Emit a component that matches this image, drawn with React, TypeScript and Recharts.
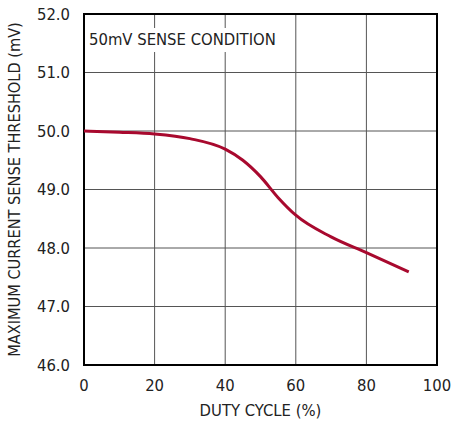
import { LineChart, Line, XAxis, YAxis, CartesianGrid, ReferenceArea } from 'recharts'

const dutyCycle = [0, 10, 20, 30, 40, 45, 50, 55, 60, 70, 80, 92]
const threshold = [50.0, 49.98, 49.95, 49.87, 49.69, 49.5, 49.22, 48.86, 48.56, 48.19, 47.92, 47.59]
const xTicks = [0, 20, 40, 60, 80, 100]
const yTicks = [46, 47, 48, 49, 50, 51, 52]

const chartData = dutyCycle.map((d, i) => ({ duty: d, mv: threshold[i] }))

const font = '"Liberation Sans Narrow", "DejaVu Sans Condensed", Arial, sans-serif'

export default function App() {
  return (
    <div style={{ position: 'absolute', left: 0, top: 0, width: 467, height: 423, background: '#fff', fontFamily: font }}>
      <LineChart width={467} height={423} data={chartData} margin={{ top: 14, right: 30, bottom: 0, left: 0 }}>
        <CartesianGrid stroke="#555" strokeWidth={1} />
        <XAxis
          dataKey="duty"
          type="number"
          domain={[0, 100]}
          ticks={xTicks}
          tickLine={false}
          axisLine={false}
          height={58}
          tickMargin={8}
          tick={{ fill: '#222', fontSize: 16.5, fontFamily: font }}
          label={{ value: 'DUTY CYCLE (%)', position: 'insideBottom', offset: 7, fill: '#222', fontSize: 16.5, fontFamily: font }}
        />
        <YAxis
          type="number"
          domain={[46, 52]}
          ticks={yTicks}
          tickFormatter={(v: number) => v.toFixed(1)}
          tickLine={false}
          axisLine={false}
          width={84}
          tickMargin={8}
          tick={{ fill: '#222', fontSize: 16.5, fontFamily: font }}
          label={{ value: 'MAXIMUM CURRENT SENSE THRESHOLD (mV)', angle: -90, position: 'insideLeft', offset: 14, fill: '#222', fontSize: 16.2, fontFamily: font, style: { textAnchor: 'middle' } }}
        />
        <ReferenceArea x1={0} x2={100} y1={46} y2={52} stroke="#000" strokeWidth={2} fill="none" fillOpacity={0} ifOverflow="visible" />
        <Line dataKey="mv" type="monotone" stroke="#a8092e" strokeWidth={3} dot={false} isAnimationActive={false} />
      </LineChart>
      <div style={{ position: 'absolute', left: 87, top: 28, fontSize: 16.5, color: '#222', background: '#fff', padding: '2px 2px', lineHeight: '20px' }}>
        50mV SENSE CONDITION
      </div>
    </div>
  )
}
